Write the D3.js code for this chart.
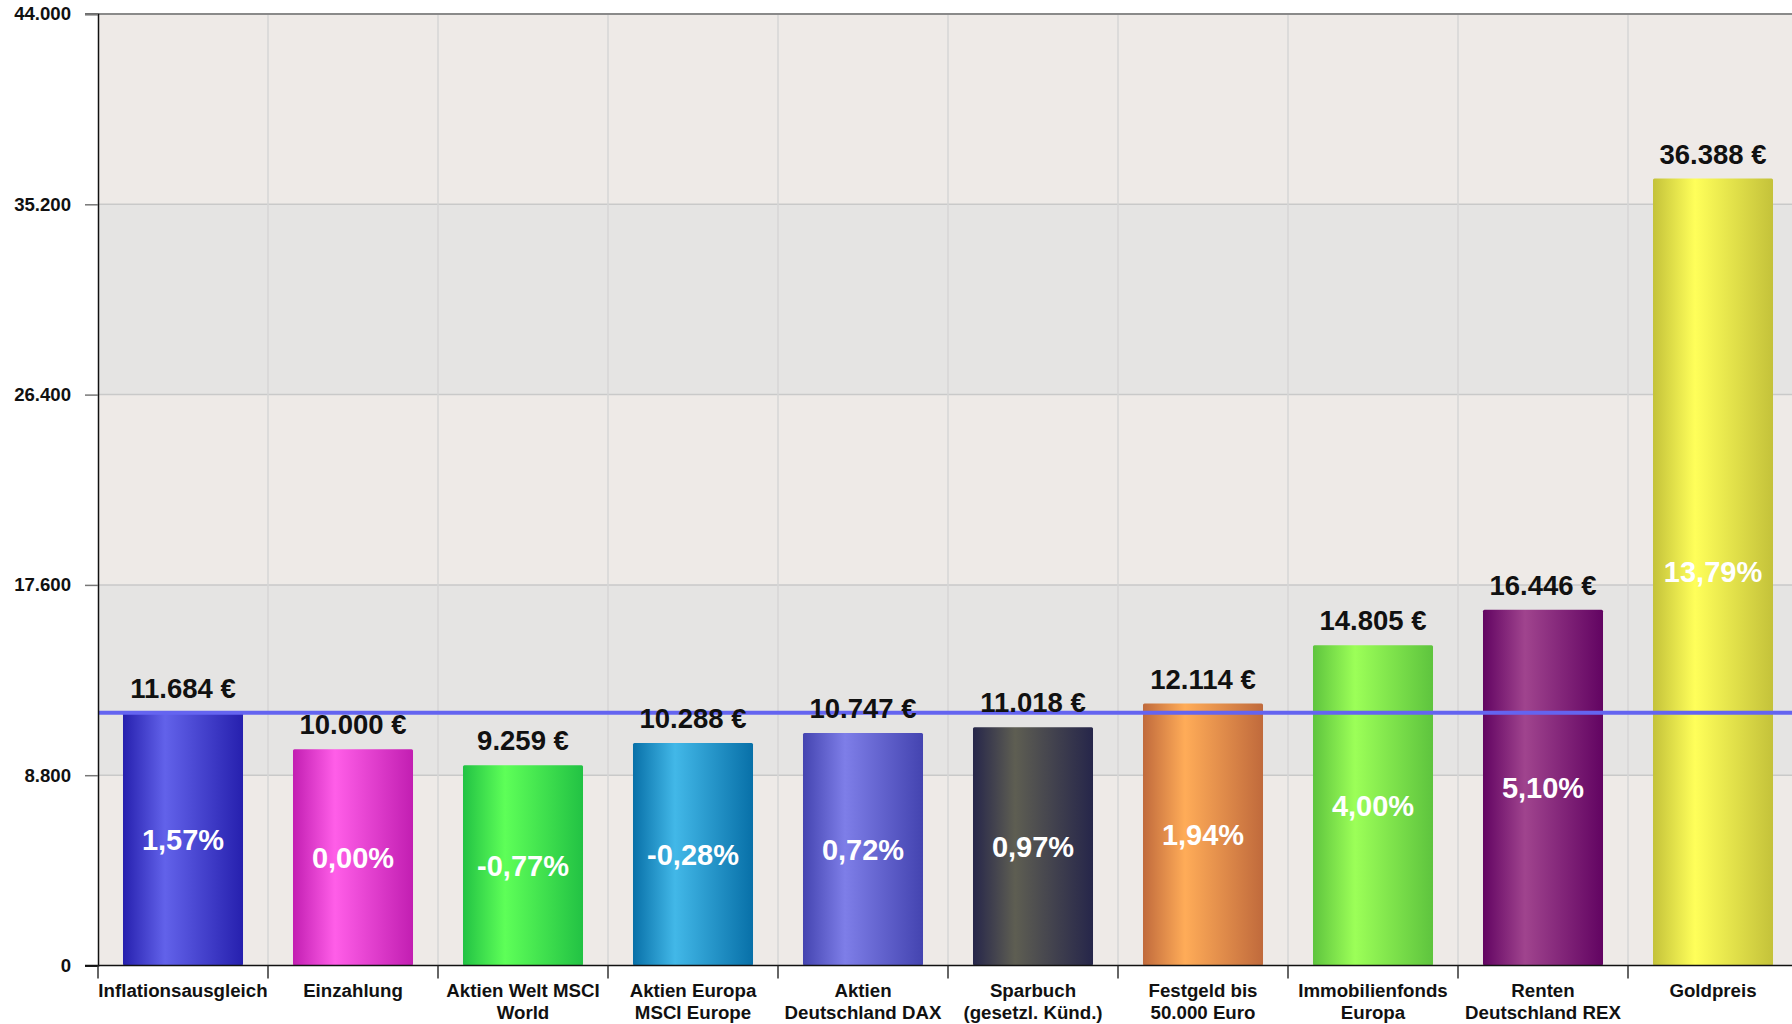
<!DOCTYPE html>
<html>
<head>
<meta charset="utf-8">
<title>Wertentwicklung 10.000 Euro</title>
<script src="https://d3js.org/d3.v7.min.js"></script>
<style>
  body { margin: 0; background: #fff; }
  text { font-family: "Liberation Sans", Arial, sans-serif; font-weight: bold; }
</style>
</head>
<body>
<script>
// data
const categories = ["Inflationsausgleich", "Einzahlung", "Aktien Welt MSCI World", "Aktien Europa MSCI Europe",
  "Aktien Deutschland DAX", "Sparbuch (gesetzl. Künd.)", "Festgeld bis 50.000 Euro",
  "Immobilienfonds Europa", "Renten Deutschland REX", "Goldpreis"];
const labelLines = [["Inflationsausgleich"], ["Einzahlung"], ["Aktien Welt MSCI", "World"], ["Aktien Europa", "MSCI Europe"],
  ["Aktien", "Deutschland DAX"], ["Sparbuch", "(gesetzl. Künd.)"], ["Festgeld bis", "50.000 Euro"],
  ["Immobilienfonds", "Europa"], ["Renten", "Deutschland REX"], ["Goldpreis"]];
const values = [11684, 10000, 9259, 10288, 10747, 11018, 12114, 14805, 16446, 36388];
const returns = [1.57, 0.00, -0.77, -0.28, 0.72, 0.97, 1.94, 4.00, 5.10, 13.79];
const yTicks = [0, 8800, 17600, 26400, 35200, 44000];
const inflationLevel = 11684;
// [edge colour, highlight colour]
const barColors = [["#2620ae", "#6262ea"], ["#c21eb2", "#ff5ee8"], ["#22c244", "#5eff58"], ["#0870a8", "#42b8e8"],
  ["#4444b0", "#7e7ee8"], ["#26264a", "#5e5e52"], ["#c06a3c", "#ffac58"], ["#5ec43e", "#9cff58"],
  ["#620462", "#a0448e"], ["#c4c23a", "#ffff5a"]];

const W = 1792, H = 1024;
const m = {left: 98, top: 14, bottom: 1024 - 965.5};
const plotRight = m.left + 1700;

const de = d3.formatLocale({decimal: ",", thousands: ".", grouping: [3], currency: ["", " €"], minus: "-"});
const fmtInt = de.format(",.0f");
const fmtPct = de.format(".2f");

const svg = d3.select("body").append("svg")
  .attr("width", W).attr("height", H);

const x = d3.scaleBand()
  .domain(categories)
  .range([m.left, plotRight])
  .paddingInner(0.294)
  .paddingOuter(0.147);

const y = d3.scaleLinear()
  .domain([0, 44000])
  .range([H - m.bottom, m.top]);

// gradients for the bars
const defs = svg.append("defs");
barColors.forEach((c, i) => {
  const g = defs.append("linearGradient").attr("id", "bar" + i)
    .attr("x1", "0%").attr("x2", "100%").attr("y1", "0%").attr("y2", "0%");
  g.append("stop").attr("offset", "0%").attr("stop-color", c[0]);
  g.append("stop").attr("offset", "35%").attr("stop-color", c[1]);
  g.append("stop").attr("offset", "100%").attr("stop-color", c[0]);
});

// alternating background bands
const bands = d3.pairs(yTicks);
svg.selectAll(".band").data(bands).join("rect")
  .attr("x", m.left).attr("width", plotRight - m.left)
  .attr("y", d => y(d[1])).attr("height", d => y(d[0]) - y(d[1]))
  .attr("fill", (d, i) => i % 2 === 0 ? "#eeeae7" : "#e5e4e3");

// horizontal grid
svg.selectAll(".hgrid").data(yTicks.slice(1, -1)).join("line")
  .attr("x1", m.left).attr("x2", plotRight)
  .attr("y1", d => y(d)).attr("y2", d => y(d))
  .attr("stroke", "#c9c9c9").attr("stroke-width", 1.5);

// vertical grid at category boundaries
const bounds = categories.slice(1).map(c => x(c) - x.step() * x.paddingInner() / 2);
svg.selectAll(".vgrid").data(bounds).join("line")
  .attr("x1", d => d).attr("x2", d => d)
  .attr("y1", y(44000)).attr("y2", y(0))
  .attr("stroke", "#d6d6d6").attr("stroke-width", 1.5);

// top border
svg.append("line")
  .attr("x1", m.left - 13).attr("x2", W)
  .attr("y1", y(44000)).attr("y2", y(44000))
  .attr("stroke", "#8a8a8a").attr("stroke-width", 2);

// bars
svg.selectAll(".bar").data(values).join("rect")
  .attr("x", (d, i) => x(categories[i]))
  .attr("width", x.bandwidth())
  .attr("y", d => y(d))
  .attr("height", d => y(0) - y(d))
  .attr("rx", 1.5)
  .attr("fill", (d, i) => "url(#bar" + i + ")");

// inflation line
svg.append("line")
  .attr("x1", m.left).attr("x2", W)
  .attr("y1", y(inflationLevel)).attr("y2", y(inflationLevel))
  .attr("stroke", "#6464f0").attr("stroke-width", 4);

// value labels
svg.selectAll(".val").data(values).join("text")
  .attr("x", (d, i) => x(categories[i]) + x.bandwidth() / 2)
  .attr("y", d => y(d) - 15)
  .attr("text-anchor", "middle")
  .attr("font-size", 27.5)
  .attr("fill", "#111")
  .text(d => fmtInt(d) + " €");

// percent labels
svg.selectAll(".pct").data(values).join("text")
  .attr("x", (d, i) => x(categories[i]) + x.bandwidth() / 2)
  .attr("y", d => (y(d) + y(0)) / 2)
  .attr("dy", "0.36em")
  .attr("text-anchor", "middle")
  .attr("font-size", 29)
  .attr("fill", "#fff")
  .text((d, i) => fmtPct(returns[i]) + "%");

// y axis
const yAxis = svg.append("g")
  .attr("transform", "translate(" + m.left + ",0)")
  .call(d3.axisLeft(y).tickValues(yTicks).tickSize(13).tickPadding(14)
    .tickFormat(d => d === 0 ? "0" : fmtInt(d)));
yAxis.select(".domain").attr("stroke", "#111").attr("stroke-width", 1.5);
yAxis.selectAll(".tick line").attr("stroke", "#777").attr("stroke-width", 1.5);
yAxis.selectAll(".tick text").attr("font-size", 18.6).attr("fill", "#111")
  .attr("font-family", "Liberation Sans, Arial, sans-serif").attr("font-weight", "bold");
yAxis.selectAll(".tick").filter(d => d === 0).select("line").attr("stroke", "#111");

// x axis line and ticks at boundaries
svg.append("line")
  .attr("x1", m.left - 13).attr("x2", W)
  .attr("y1", y(0)).attr("y2", y(0))
  .attr("stroke", "#111").attr("stroke-width", 1.5);
svg.selectAll(".xtick").data([m.left].concat(bounds)).join("line")
  .attr("x1", d => d).attr("x2", d => d)
  .attr("y1", y(0)).attr("y2", y(0) + 13)
  .attr("stroke", "#333").attr("stroke-width", 1.5);

// category labels
const lbl = svg.selectAll(".xlbl").data(labelLines).join("text")
  .attr("text-anchor", "middle")
  .attr("font-size", 18.7)
  .attr("fill", "#111");
lbl.selectAll("tspan").data((d, i) => d.map(s => ({s, i}))).join("tspan")
  .attr("x", d => x(categories[d.i]) + x.bandwidth() / 2)
  .attr("y", (d, j) => 997 + j * 21.5)
  .text(d => d.s);
</script>
</body>
</html>
